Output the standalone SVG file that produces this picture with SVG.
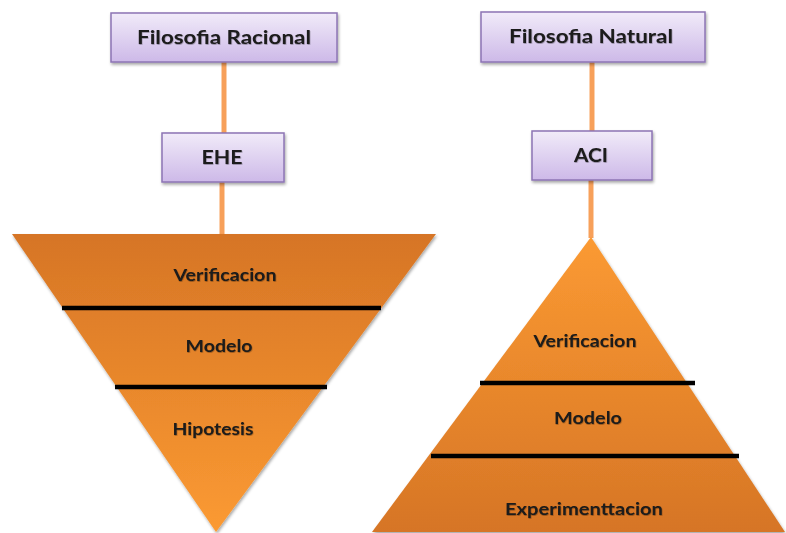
<svg xmlns="http://www.w3.org/2000/svg" width="786" height="533" viewBox="0 0 786 533">
<defs>
<linearGradient id="boxg" x1="0" y1="0" x2="0" y2="1">
<stop offset="0" stop-color="#F1EBF9"/>
<stop offset="1" stop-color="#CDB9E8"/>
</linearGradient>
<linearGradient id="invg" x1="0" y1="0" x2="0" y2="1">
<stop offset="0" stop-color="#D67526"/>
<stop offset="1" stop-color="#FB9A32"/>
</linearGradient>
<linearGradient id="pyrg" x1="0" y1="0" x2="0" y2="1">
<stop offset="0" stop-color="#FB9A32"/>
<stop offset="1" stop-color="#D67526"/>
</linearGradient>
<filter id="sh" x="-10%" y="-10%" width="130%" height="140%">
<feDropShadow dx="1" dy="2" stdDeviation="1.5" flood-color="#000" flood-opacity="0.35"/>
</filter>
<filter id="tsh" x="-10%" y="-30%" width="120%" height="160%">
<feDropShadow dx="0.5" dy="0.8" stdDeviation="0.6" flood-color="#000" flood-opacity="0.35"/>
</filter>
</defs>
<style>
.box{fill:url(#boxg);stroke:#8C74B4;stroke-width:1.5;filter:url(#sh)}
.conn{stroke:#F7A05A;stroke-width:5;fill:none}
.sep{stroke:#000;stroke-width:4.5;stroke-linecap:butt}
.t{font-family:Lato,"Liberation Sans",sans-serif;font-weight:bold;fill:#1a1a1a;text-anchor:middle;filter:url(#tsh)}
.bt{font-size:19px}
.lt{font-size:17px}
</style>
<g id="connectors">
<line class="conn" x1="224" y1="62" x2="224" y2="133"/>
<line class="conn" x1="222" y1="182" x2="222" y2="235"/>
<line class="conn" x1="592" y1="62" x2="592" y2="131"/>
<line class="conn" x1="591" y1="180" x2="591" y2="238"/>
</g>
<g id="filosofia-racional">
<rect class="box" x="111" y="13" width="226" height="49"/>
<text class="t bt" x="224" y="44" textLength="174" lengthAdjust="spacingAndGlyphs">Filosofia Racional</text>
</g>
<g id="ehe">
<rect class="box" x="162" y="133" width="122" height="49"/>
<text class="t bt" x="222" y="164" textLength="41" lengthAdjust="spacingAndGlyphs">EHE</text>
</g>
<g id="filosofia-natural">
<rect class="box" x="481" y="12" width="224" height="50"/>
<text class="t bt" x="591" y="43" textLength="164" lengthAdjust="spacingAndGlyphs">Filosofia Natural</text>
</g>
<g id="aci">
<rect class="box" x="532" y="131" width="120" height="49"/>
<text class="t bt" x="591" y="162" textLength="34" lengthAdjust="spacingAndGlyphs">ACI</text>
</g>
<g id="inverted-triangle">
<polygon points="12,234 436,234 216,532" fill="url(#invg)" filter="url(#sh)"/>
<line class="sep" x1="62" y1="308" x2="381" y2="308"/>
<line class="sep" x1="115" y1="387" x2="327" y2="387"/>
<text class="t lt" x="225" y="281" textLength="103" lengthAdjust="spacingAndGlyphs">Verificacion</text>
<text class="t lt" x="219" y="352" textLength="67" lengthAdjust="spacingAndGlyphs">Modelo</text>
<text class="t lt" x="213" y="435" textLength="81" lengthAdjust="spacingAndGlyphs">Hipotesis</text>
</g>
<g id="pyramid">
<polygon points="591,237 785,532 372,532" fill="url(#pyrg)" filter="url(#sh)"/>
<line class="sep" x1="480" y1="383" x2="695" y2="383"/>
<line class="sep" x1="431" y1="456" x2="739" y2="456"/>
<text class="t lt" x="585" y="347" textLength="103" lengthAdjust="spacingAndGlyphs">Verificacion</text>
<text class="t lt" x="588" y="424" textLength="68" lengthAdjust="spacingAndGlyphs">Modelo</text>
<text class="t lt" x="584" y="515" textLength="158" lengthAdjust="spacingAndGlyphs">Experimenttacion</text>
</g>
</svg>
